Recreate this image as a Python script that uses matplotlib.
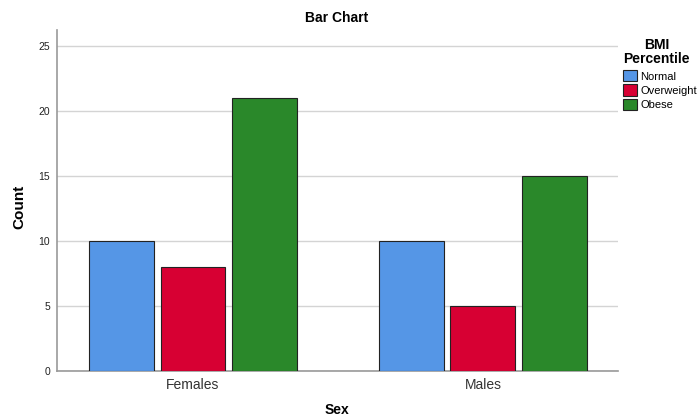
import matplotlib
matplotlib.use("Agg")
import matplotlib.pyplot as plt
import numpy as np
from matplotlib.patches import Patch

plt.rcParams['font.family'] = ['Liberation Sans', 'DejaVu Sans']

categories = ["Females", "Males"]
series = ["Normal", "Overweight", "Obese"]
values = {
    "Normal": [10, 10],
    "Overweight": [8, 5],
    "Obese": [21, 15],
}
colors = ["#5596e6", "#d70033", "#2a882a"]
yticks = [0, 5, 10, 15, 20, 25]

fig = plt.figure(figsize=(7.0, 4.19), dpi=100)
W, H = 700, 419
ax = fig.add_axes([57 / W, 1 - 371 / H, (618 - 57) / W, (371 - 30) / H])

x = np.arange(len(categories))
w = 0.224
step = 0.2466
for i, s in enumerate(series):
    ax.bar(x + (i - 1) * step, values[s], width=w, color=colors[i],
           edgecolor="#222222", linewidth=0.8, zorder=3)

ax.set_xlim(-0.469, 1.466)
ax.set_ylim(0, 26.2)
ax.set_yticks(yticks)
ax.set_yticklabels([str(t) for t in yticks], fontsize=7.5, color="#222222")
ax.set_xticks(x)
ax.set_xticklabels(categories, fontsize=10, color="#333333")
ax.tick_params(axis="both", length=0)
ax.tick_params(axis="x", pad=5)
ax.tick_params(axis="y", pad=5)
ax.yaxis.grid(True, color="#d4d4d4", linewidth=1, zorder=0)
ax.set_axisbelow(True)
for sp in ["top", "right"]:
    ax.spines[sp].set_visible(False)
for sp in ["left", "bottom"]:
    ax.spines[sp].set_color("#999999")
    ax.spines[sp].set_linewidth(1.2)

fig.text(19 / W, 1 - 207 / H, "Count", ha="center", va="center", rotation=90,
         fontsize=11, fontweight="bold")
fig.text(337 / W, 1 - 410 / H, "Sex", ha="center", va="center",
         fontsize=10, fontweight="bold")
fig.text(337 / W, 1 - 18 / H, "Bar Chart", ha="center", va="center",
         fontsize=10, fontweight="bold")

handles = [Patch(facecolor=colors[i], edgecolor="#222222", linewidth=0.8, label=s)
           for i, s in enumerate(series)]
leg = fig.legend(handles=handles, title="BMI\nPercentile", loc="upper left",
                 bbox_to_anchor=(619 / W, 1 - 34 / H), frameon=False,
                 fontsize=8, handlelength=1.2, handleheight=1.2,
                 handletextpad=0.3, labelspacing=0.25, borderaxespad=0,
                 title_fontproperties={"weight": "bold", "size": 10})
leg.get_title().set_multialignment("center")
leg.get_title().set_linespacing(0.95)
leg._legend_box.sep = 3
leg._legend_box.align = "left"

fig.savefig("out.png", dpi=100)
